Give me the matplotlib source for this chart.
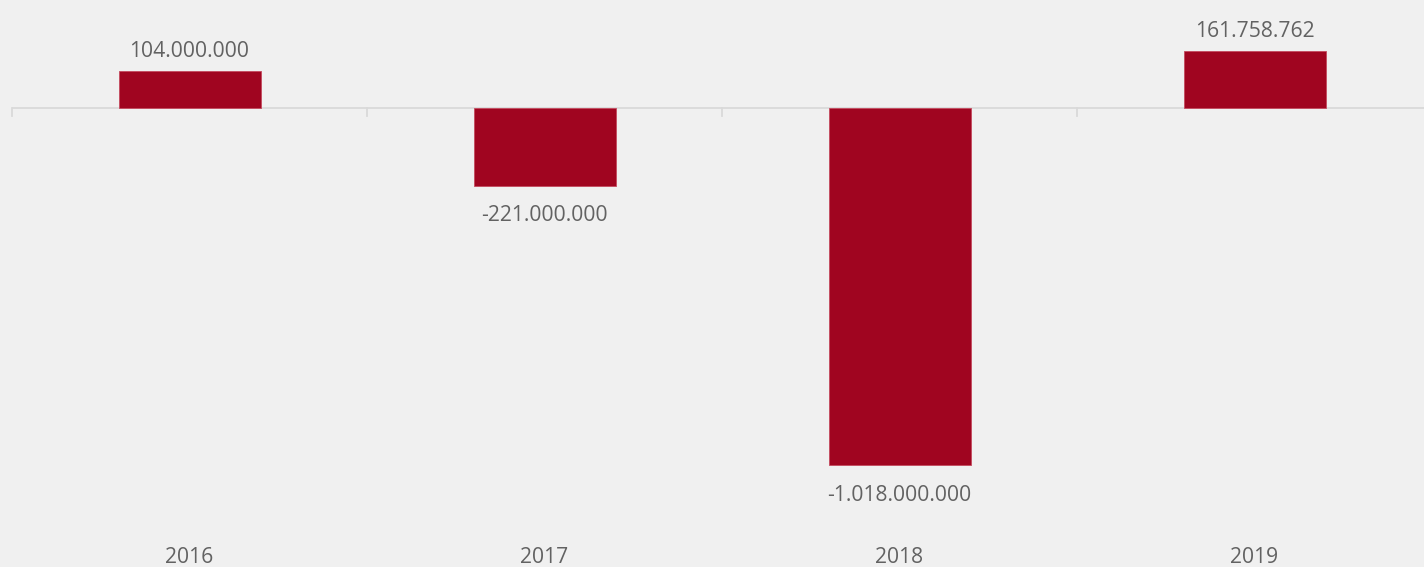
import matplotlib
matplotlib.use("Agg")
import matplotlib.pyplot as plt
from matplotlib.transforms import blended_transform_factory

years = ["2016", "2017", "2018", "2019"]
values = [104000000, -221000000, -1018000000, 161758762]
value_labels = ["104.000.000", "-221.000.000", "-1.018.000.000", "161.758.762"]

W, H, DPI = 1424, 567, 100
PX = 72.0 / DPI  # points per pixel

bg = "#f0f0f0"
bar_color = "#a00520"
text_color = "#626262"
axis_color = "#d9d9d9"

plt.rcParams["font.family"] = ["Open Sans", "DejaVu Sans"]

fig = plt.figure(figsize=(W / DPI, H / DPI), dpi=DPI, facecolor=bg)
# plot area: zero line near the top, categories across the full width
ax = fig.add_axes([12 / W, 0, 1420 / W, 1])
ax.set_facecolor(bg)
for s in ax.spines.values():
    s.set_visible(False)

scale = 0.351e-6  # pixels per unit value
zero_px = 108
ax.set_ylim(-(H - zero_px) / scale, zero_px / scale)
ax.set_xlim(-0.5, len(years) - 0.5)

x = list(range(len(years)))
ax.bar(x, values, width=0.4, color=bar_color, edgecolor="#c44a5e", linewidth=0.6, zorder=3)

# baseline and category separators
ax.axhline(0, color=axis_color, linewidth=1.3, zorder=2)
sep_tr = blended_transform_factory(ax.transData, ax.transAxes)
for b in [-0.5, 0.5, 1.5, 2.5]:
    ax.plot([b, b], [1 - zero_px / H, 1 - (zero_px + 8) / H], color=axis_color,
            linewidth=1.3, transform=sep_tr, zorder=2, clip_on=False)

ax.set_xticks([])
ax.set_yticks([])

# value labels
for xi, v, lab in zip(x, values, value_labels):
    off = 14.5 if v >= 0 else -35.5
    ax.annotate(lab, (xi, v), xytext=(0, off * PX), textcoords="offset points",
                ha="center", va="baseline", fontsize=15.2, color=text_color)

# category labels
for xi, yr in zip(x, years):
    ax.text(xi, 1 - 563 / H, yr, transform=sep_tr, ha="center", va="baseline",
            fontsize=15.2, color=text_color)

fig.savefig("out.png", dpi=DPI, facecolor=bg)
